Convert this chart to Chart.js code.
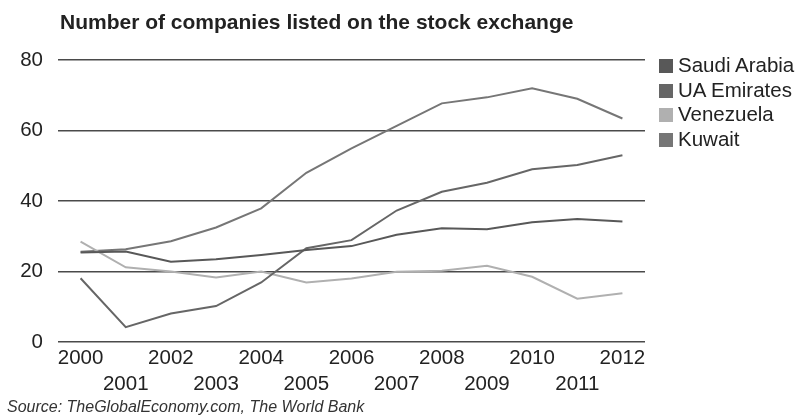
<!DOCTYPE html>
<html>
<head>
<meta charset="utf-8">
<script src="https://cdn.jsdelivr.net/npm/chart.js"></script>
<style>
  html, body { margin: 0; padding: 0; background: #fff; }
  body { width: 806px; height: 420px; position: relative; overflow: hidden; font-family: "Liberation Sans", Arial, sans-serif; color: #222; }
  #wrap { position: absolute; left: 0; top: 0; width: 806px; height: 400px; }
  #title { position: absolute; left: 60px; top: 10px; font-size: 21px; font-weight: bold; white-space: nowrap; }
  #legend { position: absolute; left: 659px; top: 53px; font-size: 20.5px; line-height: 24.5px; }
  #legend div { white-space: nowrap; }
  #legend span { display: inline-block; width: 14px; height: 14px; margin-right: 5px; vertical-align: -1px; }
  #source { position: absolute; left: 7px; top: 398px; font-size: 16px; font-style: italic; color: #333; white-space: nowrap; }
</style>
</head>
<body>
<div id="wrap"><canvas id="chart"></canvas></div>
<div id="title">Number of companies listed on the stock exchange</div>
<div id="legend"></div>
<div id="source">Source: TheGlobalEconomy.com, The World Bank</div>
<script>
const years = ['2000', '2001', '2002', '2003', '2004', '2005', '2006', '2007', '2008', '2009', '2010', '2011', '2012'];
const yTicks = [0, 20, 40, 60, 80];

const saudiArabia = [25.4, 25.7, 22.8, 23.5, 24.7, 26.1, 27.2, 30.4, 32.3, 32.0, 34.0, 34.9, 34.2];
const uaEmirates = [18.1, 4.2, 8.1, 10.2, 16.9, 26.6, 28.9, 37.3, 42.6, 45.2, 49.0, 50.2, 53.0];
const venezuela = [28.5, 21.2, 20.0, 18.3, 20.0, 16.9, 18.0, 19.9, 20.2, 21.6, 18.5, 12.3, 13.8];
const kuwait = [25.6, 26.3, 28.6, 32.5, 37.9, 48.0, 54.9, 61.3, 67.7, 69.4, 72.0, 69.0, 63.4];

const series = [
  { label: 'Saudi Arabia', data: saudiArabia, color: '#585858' },
  { label: 'UA Emirates', data: uaEmirates, color: '#666666' },
  { label: 'Venezuela', data: venezuela, color: '#b0b0b0' },
  { label: 'Kuwait', data: kuwait, color: '#767676' }
];

// legend box on the right
const legendEl = document.getElementById('legend');
series.forEach(s => {
  const row = document.createElement('div');
  const box = document.createElement('span');
  box.style.background = s.color;
  row.appendChild(box);
  row.appendChild(document.createTextNode(s.label));
  legendEl.appendChild(row);
});

const font = { family: '"Liberation Sans", Arial, sans-serif', size: 20.5 };

new Chart(document.getElementById('chart'), {
  type: 'line',
  data: {
    labels: years,
    datasets: series.map(s => ({
      label: s.label,
      data: s.data,
      borderColor: s.color,
      backgroundColor: s.color,
      borderWidth: 2,
      pointRadius: 0,
      tension: 0
    }))
  },
  options: {
    responsive: true,
    maintainAspectRatio: false,
    animation: false,
    layout: { padding: { left: 0, right: 161, top: 60, bottom: 0 } },
    plugins: { legend: { display: false }, tooltip: { enabled: false } },
    scales: {
      x: {
        offset: true,
        grid: { display: false },
        border: { display: false },
        ticks: {
          color: '#222',
          font: Object.assign({ lineHeight: 1.27 }, font),
          padding: -5,
          autoSkip: false,
          minRotation: 0,
          maxRotation: 0,
          // even years on the first row, odd years on the second
          callback: function (value, index) {
            const y = years[index];
            return index % 2 === 0 ? [y, ''] : ['', y];
          }
        },
        afterFit: scale => { scale.height = 58; }
      },
      y: {
        min: 0,
        max: 80,
        afterBuildTicks: scale => { scale.ticks = yTicks.map(v => ({ value: v })); },
        grid: { color: '#4a4a4a', lineWidth: 1.5, drawTicks: false },
        border: { display: false },
        ticks: { color: '#222', font: font, padding: 15 },
        afterFit: scale => { scale.width = 58; }
      }
    }
  }
});
</script>
</body>
</html>
